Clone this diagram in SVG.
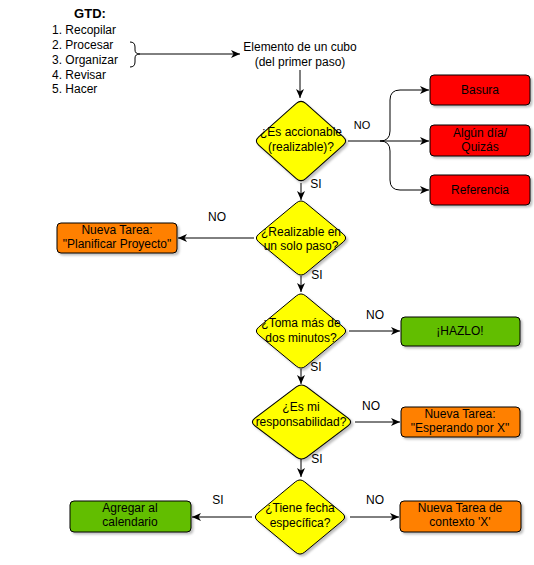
<svg xmlns="http://www.w3.org/2000/svg" xmlns:xlink="http://www.w3.org/1999/xlink" width="534" height="565" viewBox="0 0 534 565">
<defs>
<style>
text{font-family:"Liberation Sans",Arial,sans-serif;font-size:12px;fill:#000}
.c{text-anchor:middle}
.lbl{font-size:12px}
.dia{fill:#FFFF00;stroke:#000;stroke-width:1}
.red{fill:#FF0000;stroke:#000;stroke-width:1}
.org{fill:#FF8000;stroke:#000;stroke-width:1}
.grn{fill:#62BE00;stroke:#000;stroke-width:1}
.ln{fill:none;stroke:#000;stroke-width:1}
.ar{fill:none;stroke:#000;stroke-width:1;marker-end:url(#ah)}
</style>
<marker id="ah" markerUnits="userSpaceOnUse" markerWidth="10" markerHeight="9" refX="9" refY="4.5" orient="auto">
<path d="M0,0.5 L9,4.5 L0,8.5 L2.5,4.5 Z" fill="#000"/>
</marker>
<filter id="sh" x="-20%" y="-20%" width="140%" height="150%">
<feDropShadow dx="2" dy="2" stdDeviation="1" flood-color="#000" flood-opacity="0.25"/>
</filter>
<path id="dm" d="M-4.7,-35.1 Q0,-39 4.7,-35.1 L42.3,-3.9 Q47,0 42.3,3.9 L4.7,35.1 Q0,39 -4.7,35.1 L-42.3,3.9 Q-47,0 -42.3,-3.9 Z"/>
</defs>

<g id="connectors">
<path class="ln" d="M130,42 Q135,42 135,47 L135,50 Q135,54 140,54 Q135,54 135,58 L135,62 Q135,67 130,67"/>
<line class="ar" x1="140" y1="54" x2="240" y2="54"/>
<line class="ar" x1="300" y1="70" x2="300" y2="98"/>
<path class="ln" d="M348,141 L380,141"/>
<path class="ar" d="M380,141 Q390,141 390,131 L390,100 Q390,90 400,90 L429,90"/>
<path class="ar" d="M380,141 L429,141"/>
<path class="ar" d="M380,141 Q390,141 390,151 L390,180 Q390,190 400,190 L429,190"/>
<line class="ar" x1="301" y1="183" x2="301" y2="200"/>
<line class="ar" x1="254" y1="238" x2="178" y2="238"/>
<line class="ar" x1="301" y1="276" x2="301" y2="292"/>
<line class="ar" x1="349" y1="331" x2="400" y2="331"/>
<line class="ar" x1="301" y1="369" x2="301" y2="384"/>
<line class="ar" x1="355" y1="422" x2="400" y2="422"/>
<line class="ar" x1="301" y1="459" x2="301" y2="477"/>
<line class="ar" x1="252" y1="517" x2="192" y2="517"/>
<line class="ar" x1="350" y1="517" x2="399" y2="517"/>
<text x="362" y="129" class="c" style="font-size:11px">NO</text>
<text x="316" y="188" class="c">SI</text>
<text x="217" y="221" class="c">NO</text>
<text x="317" y="279" class="c">SI</text>
<text x="375" y="319" class="c">NO</text>
<text x="316" y="371" class="c">SI</text>
<text x="371" y="410" class="c">NO</text>
<text x="317" y="463" class="c">SI</text>
<text x="218" y="504" class="c">SI</text>
<text x="375" y="504" class="c">NO</text>
</g>

<g id="gtd">
<text x="90" y="18" class="c" style="font-weight:bold;font-size:13px">GTD:</text>
<text x="52" y="34">1. Recopilar</text>
<text x="52" y="49">2. Procesar</text>
<text x="52" y="64">3. Organizar</text>
<text x="52" y="79">4. Revisar</text>
<text x="52" y="93">5. Hacer</text>
</g>

<g id="elemento">
<text x="300" y="51" class="c">Elemento de un cubo</text>
<text x="300" y="66" class="c">(del primer paso)</text>
</g>

<g id="d1">
<use href="#dm" class="dia" filter="url(#sh)" transform="translate(301,141) scale(1,1.07)"/>
<text x="301" y="136" class="c">¿Es accionable</text>
<text x="301" y="151" class="c">(realizable)?</text>
</g>
<g id="basura">
<rect x="430" y="75" width="100" height="30" rx="4" class="red" filter="url(#sh)"/>
<text x="480" y="94" class="c">Basura</text>
</g>
<g id="algun">
<rect x="430" y="125" width="100" height="31" rx="4" class="red" filter="url(#sh)"/>
<text x="480" y="137" class="c">Algún día/</text>
<text x="480" y="151" class="c">Quizás</text>
</g>
<g id="referencia">
<rect x="430" y="175" width="100" height="30" rx="4" class="red" filter="url(#sh)"/>
<text x="480" y="194" class="c">Referencia</text>
</g>

<g id="d2">
<use href="#dm" class="dia" filter="url(#sh)" transform="translate(301,238)"/>
<text x="301" y="236" class="c">¿Realizable en</text>
<text x="301" y="250" class="c">un solo paso?</text>
</g>
<g id="planificar">
<rect x="57" y="223" width="120" height="30" rx="4" class="org" filter="url(#sh)"/>
<text x="117" y="234" class="c">Nueva Tarea:</text>
<text x="117" y="248" class="c">"Planificar Proyecto"</text>
</g>

<g id="d3">
<use href="#dm" class="dia" filter="url(#sh)" transform="translate(301,331)"/>
<text x="301" y="327" class="c">¿Toma más de</text>
<text x="301" y="342" class="c">dos minutos?</text>
</g>
<g id="hazlo">
<rect x="401" y="317" width="119" height="29" rx="4" class="grn" filter="url(#sh)"/>
<text x="460" y="335" class="c">¡HAZLO!</text>
</g>

<g id="d4">
<use href="#dm" class="dia" filter="url(#sh)" transform="translate(301.5,422) scale(1.1,1)"/>
<text x="301" y="411" class="c">¿Es mi</text>
<text x="301" y="426" class="c">responsabilidad?</text>
</g>
<g id="esperando">
<rect x="401" y="407" width="119" height="30" rx="4" class="org" filter="url(#sh)"/>
<text x="460" y="418" class="c">Nueva Tarea:</text>
<text x="460" y="432" class="c">"Esperando por X"</text>
</g>

<g id="d5">
<use href="#dm" class="dia" filter="url(#sh)" transform="translate(300,517)"/>
<text x="300" y="512" class="c">¿Tiene fecha</text>
<text x="300" y="527" class="c">específica?</text>
</g>
<g id="calendario">
<rect x="70" y="501" width="121" height="31" rx="4" class="grn" filter="url(#sh)"/>
<text x="130" y="512" class="c">Agregar al</text>
<text x="130" y="526" class="c">calendario</text>
</g>
<g id="contexto">
<rect x="400" y="501" width="121" height="31" rx="4" class="org" filter="url(#sh)"/>
<text x="460" y="512" class="c">Nueva Tarea de</text>
<text x="460" y="526" class="c">contexto 'X'</text>
</g>
</svg>
